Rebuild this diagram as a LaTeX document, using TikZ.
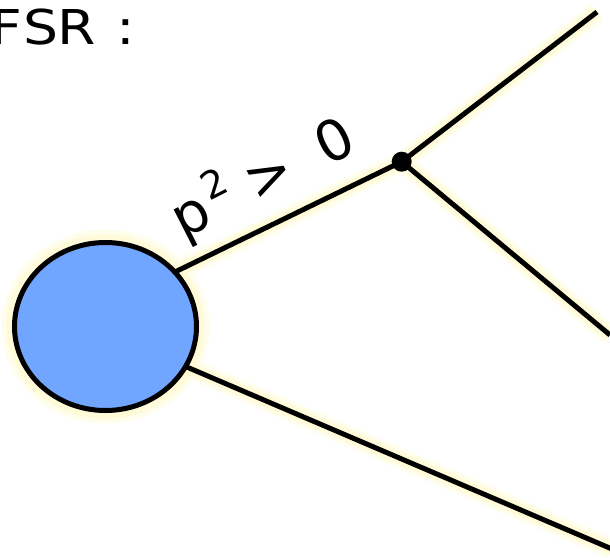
\documentclass[tikz,border=0pt]{standalone}
\usepackage{fontspec}
\setmainfont{DejaVu Sans}
\newfontfamily\widesans[FakeStretch=1.15]{DejaVu Sans}
\usetikzlibrary{shapes.geometric}
\definecolor{blobblue}{RGB}{112,166,255}
\definecolor{glowcol}{RGB}{255,250,215}
\definecolor{glowcolb}{RGB}{255,253,235}
\tikzset{
  prop/.style={line width=5pt, black},
  glow/.style={line width=12pt, glowcol},
  glowb/.style={line width=20pt, glowcolb},
  blob/.style={ellipse, draw=black, line width=5pt, fill=blobblue, minimum width=182pt, minimum height=168pt, inner sep=0pt},
  vtx/.style={circle, fill=black, minimum size=20pt, inner sep=0pt},
  titletext/.style={font=\widesans\fontsize{48}{48}\selectfont, inner sep=0pt},
  lbl/.style={font=\fontsize{56}{56}\selectfont, inner sep=0pt}
}
\begin{document}
\begin{tikzpicture}[x=1pt,y=-1pt]
\useasboundingbox (0,0) rectangle (610,557);
% coordinates
\coordinate (cin) at (105,306);
\coordinate (cin2) at (105,332);
\coordinate (e1) at (597,12);
\coordinate (e2) at (610,335);
\coordinate (e3) at (612,549);
\coordinate (vpos) at (401.7,161.7);
% glow
\draw[glowb] (cin) -- (vpos) -- (e1);
\draw[glowb] (vpos) -- (e2);
\draw[glowb] (cin2) -- (e3);
\fill[glowcolb] (105.5,326.5) ellipse [x radius=104, y radius=97];
\draw[glow] (cin) -- (vpos) -- (e1);
\draw[glow] (vpos) -- (e2);
\draw[glow] (cin2) -- (e3);
\fill[glowcol] (105.5,326.5) ellipse [x radius=99, y radius=92];
% lines
\draw[prop] (cin) -- (vpos) -- (e1);
\draw[prop] (vpos) -- (e2);
\draw[prop] (cin2) -- (e3);
% nodes
\node[blob] (b) at (105.5,326.5) {};
\node[vtx] (v) at (vpos) {};
\node[titletext, anchor=base west] (fsr) at (-10,44) {F\kern1.7ptS\kern-1ptR\kern20pt:};
\node[lbl, anchor=base west, rotate=27] (p) at (183,240) {p\kern5pt{\fontsize{38}{38}\selectfont\raisebox{22pt}{2}}\ >\kern15pt\ 0};
\end{tikzpicture}
\end{document}
